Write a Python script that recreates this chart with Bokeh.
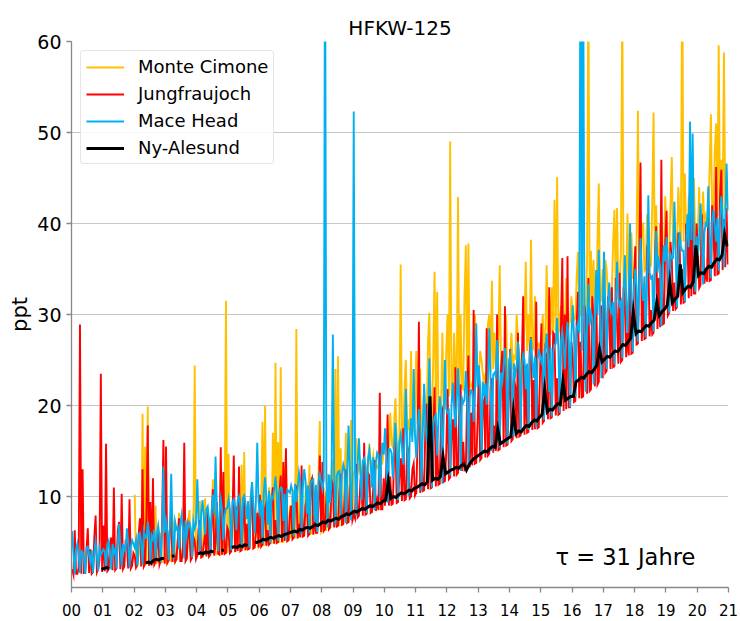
from bokeh.plotting import figure
from bokeh.models import Range1d, FixedTicker, Legend, LegendItem, Label
from bokeh.embed import file_html
from bokeh.resources import INLINE

nan = float("nan")

# ---------------- data, 2000-2020 ----------------
n_years = 21
# sample times in years since 2000: half-monthly for the three dense records, monthly for Ny-Alesund
t_half = [(i + 0.5) / 24 for i in range(24 * n_years)]
t_month = [(i + 0.5) / 12 for i in range(12 * n_years)]

x_ticks = list(range(0, 22))
x_labels = ["00", "01", "02", "03", "04", "05", "06", "07", "08", "09", "10",
            "11", "12", "13", "14", "15", "16", "17", "18", "19", "20", "21"]
y_ticks = [10, 20, 30, 40, 50, 60]

monte_cimone = [
    nan, nan, nan, nan, nan, nan, nan, nan, nan, nan, nan, nan, nan, nan, nan, nan, nan, nan, nan, nan, nan, nan, nan, nan,  # 2000
    nan, nan, nan, nan, nan, nan, nan, nan, nan, nan, nan, nan, nan, nan, nan, nan, nan, nan, nan, nan, nan, nan, nan, nan,  # 2001
    10.2, 2.3, 2.3, 4.0, 5.0, 2.4, 19.1, 2.4, 15.5, 2.5, 19.9, 2.5, 2.6, 6.0, 4.5, 2.6, 9.0, 2.7, 2.8, 5.0, 6.0, 2.8, 2.9, 3.6,  # 2002
    3.0, 4.6, 5.5, 3.0, 2.9, 6.2, 7.0, 3.0, 3.1, 5.0, 8.2, 3.1, 3.2, 4.5, 6.5, 3.2, 3.2, 7.0, 8.5, 3.3, 3.3, 5.2, 24.4, 3.3,  # 2003
    3.5, 5.8, 9.5, 3.4, 3.4, 7.5, 9.8, 3.5, 6.0, 3.5, 3.6, 8.0, 11.9, 3.6, 12.0, 3.7, 3.7, 6.5, 7.5, 3.7, 3.8, 9.0, 31.5, 3.8,  # 2004
    14.7, 3.9, 3.9, 7.0, 8.5, 4.0, 4.1, 9.5, 10.2, 4.1, 13.5, 4.2, 14.9, 4.2, 4.2, 8.0, 4.3, 10.0, 9.0, 4.3, 4.4, 7.5, 8.0, 4.4,  # 2005
    4.6, 9.0, 18.2, 4.6, 20.0, 4.7, 4.7, 11.0, 9.5, 4.8, 17.0, 4.8, 24.7, 4.9, 16.0, 4.9, 24.2, 5.0, 5.0, 12.0, 14.5, 5.1, 5.2, 9.0,  # 2006
    5.4, 10.0, 10.5, 5.4, 28.4, 5.5, 5.6, 12.0, 9.0, 5.7, 5.8, 10.5, 11.0, 5.9, 13.5, 5.9, 6.0, 11.0, 8.5, 6.0, 6.1, 12.5, 18.3, 6.1,  # 2007
    6.4, 11.0, 6.3, 6.3, 12.5, 6.5, 6.6, 13.0, 14.0, 6.7, 24.0, 6.8, 25.4, 6.8, 15.3, 6.9, 6.9, 12.0, 17.0, 7.1, 7.2, 13.5, 18.4, 7.3,  # 2008
    12.6, 13.0, 16.4, 13.2, 12.8, 14.0, 11.5, 13.4, 12.9, 12.5, 13.0, 13.8, 15.8, 13.1, 13.5, 14.5, 12.5, 13.6, 13.3, 13.0, 14.8, 13.9, 13.7, 15.0,  # 2009
    15.2, 16.0, 13.5, 15.6, 19.2, 15.8, 15.4, 18.0, 20.8, 16.2, 12.0, 16.6, 35.5, 16.0, 16.4, 22.0, 25.0, 16.8, 18.5, 17.2, 26.0, 17.0, 17.4, 20.0,  # 2010
    26.0, 18.0, 17.6, 24.0, 15.0, 18.4, 21.8, 18.2, 18.8, 27.0, 30.2, 19.0, 18.6, 25.0, 34.7, 19.4, 32.5, 19.2, 20.0, 19.8, 28.0, 19.6, 20.2, 26.0,  # 2011
    30.0, 21.0, 49.0, 21.4, 20.8, 28.0, 24.0, 21.6, 42.9, 21.2, 30.0, 22.0, 21.8, 32.0, 37.6, 22.4, 37.8, 22.2, 22.0, 22.6, 22.8, 30.0, 27.0, 23.0,  # 2012
    23.2, 26.0, 25.0, 23.6, 22.0, 23.4, 23.8, 29.0, 30.0, 23.6, 33.7, 24.0, 28.0, 24.2, 24.0, 27.0, 35.4, 24.4, 24.0, 24.8, 24.6, 30.0, 21.0, 25.0,  # 2013
    25.0, 28.0, 24.0, 25.4, 25.2, 30.0, 27.0, 25.6, 22.0, 25.8, 25.6, 29.0, 35.8, 26.0, 30.0, 26.2, 38.2, 26.4, 26.2, 32.0, 27.0, 26.6, 26.8, 26.0,  # 2014
    27.0, 30.0, 26.0, 27.4, 35.4, 27.6, 32.0, 27.8, 33.0, 28.0, 42.6, 28.2, 45.1, 28.0, 28.4, 31.0, 30.0, 28.6, 28.8, 34.0, 27.0, 29.0, 29.2, 32.0,  # 2015
    30.3, 29.4, 29.6, 34.0, 36.9, 29.8, 30.0, 35.0, 32.0, 30.2, 30.4, 36.0, 68.0, 30.6, 37.0, 30.8, 36.0, 31.0, 31.2, 38.0, 44.4, 31.4, 31.6, 35.0,  # 2016
    31.8, 36.0, 35.0, 32.0, 33.0, 32.2, 32.4, 38.0, 41.5, 32.6, 41.7, 32.8, 33.0, 37.0, 65.0, 33.2, 30.0, 33.4, 41.1, 33.6, 33.8, 39.0, 34.0, 34.0,  # 2017
    34.2, 38.0, 52.4, 34.4, 34.6, 40.0, 40.0, 34.8, 35.0, 41.0, 39.0, 35.2, 35.4, 42.0, 52.2, 35.6, 42.0, 35.8, 36.0, 40.0, 36.0, 36.2, 36.4, 43.0,  # 2018
    38.0, 36.8, 37.0, 42.0, 47.3, 37.2, 40.0, 37.4, 37.6, 44.0, 40.0, 37.8, 70.0, 38.0, 45.5, 38.2, 38.4, 43.0, 36.0, 38.6, 38.8, 45.0, 38.0, 39.0,  # 2019
    39.2, 44.0, 37.0, 39.6, 43.5, 39.8, 40.8, 40.0, 40.2, 46.0, 52.0, 40.4, 40.6, 48.0, 51.0, 40.8, 59.6, 41.0, 47.0, 41.2, 58.8, 41.4, 45.0, 41.6,  # 2020
]

jungfraujoch = [
    2.0, 1.4, 6.3, 1.5, 1.5, 2.2, 28.9, 1.5, 13.0, 1.6, 1.6, 4.0, 6.5, 1.6, 4.2, 1.5, 1.7, 5.5, 7.9, 1.7, 2.1, 3.0, 23.5, 1.7,  # 2000
    6.8, 1.8, 15.8, 1.8, 2.0, 4.6, 5.5, 1.9, 11.0, 1.9, 2.1, 6.2, 7.2, 2.0, 10.3, 2.0, 2.3, 5.0, 4.8, 2.1, 9.7, 2.1, 2.4, 3.8,  # 2001
    3.5, 2.2, 2.5, 5.8, 7.6, 2.3, 13.0, 2.3, 2.6, 8.2, 17.8, 2.4, 9.4, 2.4, 12.0, 2.5, 2.8, 4.6, 6.3, 2.5, 3.0, 7.0, 16.2, 2.6,  # 2002
    15.5, 2.7, 3.0, 6.4, 8.3, 2.8, 4.5, 2.8, 3.1, 5.2, 7.6, 2.9, 2.9, 4.4, 15.9, 2.9, 3.2, 6.8, 6.0, 3.0, 3.3, 5.6, 5.1, 3.1,  # 2003
    3.5, 6.5, 7.4, 3.3, 3.4, 4.8, 5.9, 3.4, 8.6, 3.4, 3.6, 7.2, 10.8, 3.5, 4.8, 9.4, 3.7, 3.6, 15.4, 3.6, 12.7, 3.7, 3.8, 6.6,  # 2004
    6.2, 3.8, 4.0, 8.0, 14.5, 3.9, 8.9, 4.0, 13.3, 4.0, 4.1, 7.4, 9.6, 4.1, 7.0, 4.2, 4.3, 9.0, 11.4, 4.3, 4.4, 6.0, 8.2, 4.4,  # 2005
    10.2, 4.5, 4.7, 8.2, 8.8, 4.6, 6.3, 4.7, 4.9, 9.6, 11.0, 4.8, 7.4, 4.9, 5.0, 10.4, 12.3, 5.0, 13.8, 5.1, 15.3, 5.1, 5.2, 8.0,  # 2006
    9.0, 5.3, 5.5, 10.0, 11.2, 5.4, 7.0, 5.5, 13.4, 5.6, 5.7, 9.0, 9.8, 5.7, 5.9, 11.6, 12.0, 5.8, 7.8, 6.0, 6.0, 9.2, 14.5, 6.1,  # 2007
    13.8, 6.2, 6.4, 10.0, 9.5, 6.4, 6.6, 11.8, 11.4, 6.6, 8.7, 6.7, 6.8, 10.4, 12.5, 6.9, 7.0, 9.6, 13.0, 7.1, 7.2, 11.0, 10.8, 7.4,  # 2008
    8.0, 7.6, 13.6, 7.7, 7.9, 11.2, 10.5, 7.9, 15.9, 8.0, 8.1, 12.6, 12.3, 8.2, 8.3, 11.0, 14.0, 8.4, 9.5, 8.5, 21.4, 8.6, 8.6, 12.0,  # 2009
    9.0, 13.2, 19.0, 9.0, 12.2, 9.1, 9.2, 14.6, 16.8, 9.3, 9.4, 12.4, 14.2, 9.5, 17.5, 9.6, 9.7, 15.6, 15.0, 9.8, 10.0, 13.0, 13.6, 10.1,  # 2010
    10.4, 16.2, 29.2, 10.4, 15.0, 10.6, 10.7, 18.0, 20.2, 10.8, 17.3, 10.9, 11.0, 16.6, 22.0, 11.1, 16.1, 11.3, 11.4, 19.0, 19.5, 11.6, 11.7, 15.0,  # 2011
    21.8, 11.9, 12.1, 17.0, 18.5, 12.2, 24.2, 12.4, 12.6, 20.0, 22.3, 12.8, 16.0, 12.9, 13.0, 21.0, 25.5, 13.2, 19.2, 13.4, 30.5, 13.6, 13.7, 18.0,  # 2012
    24.0, 14.0, 14.2, 20.0, 20.6, 14.3, 28.5, 14.5, 14.7, 22.0, 23.0, 14.8, 17.8, 15.0, 30.0, 15.1, 15.2, 24.0, 26.0, 15.4, 30.9, 15.6, 15.7, 21.0,  # 2013
    26.2, 16.1, 16.3, 23.0, 22.0, 16.4, 28.0, 16.6, 16.7, 25.0, 32.0, 16.8, 24.4, 17.0, 17.1, 26.0, 27.5, 17.3, 22.8, 17.4, 31.4, 17.5, 17.6, 24.0,  # 2014
    29.0, 18.1, 18.3, 26.0, 25.3, 18.5, 33.0, 18.6, 18.7, 28.0, 27.8, 18.9, 23.0, 19.0, 19.1, 29.0, 36.2, 19.4, 30.0, 19.6, 36.4, 19.8, 19.8, 27.0,  # 2015
    25.5, 20.4, 20.5, 29.0, 32.5, 20.8, 27.0, 20.9, 21.0, 31.0, 30.0, 21.3, 34.0, 21.6, 21.8, 32.0, 29.5, 22.1, 33.5, 22.3, 22.6, 30.0, 31.0, 23.0,  # 2016
    35.5, 23.6, 23.8, 32.0, 30.2, 24.0, 33.0, 24.2, 24.3, 34.0, 29.0, 24.6, 34.6, 24.8, 25.0, 33.0, 31.2, 25.3, 28.0, 25.5, 37.8, 25.7, 25.8, 34.0,  # 2017
    37.5, 26.7, 26.8, 35.0, 46.7, 27.1, 33.0, 27.3, 27.4, 37.0, 36.5, 27.6, 30.5, 27.8, 28.0, 36.0, 39.7, 28.4, 34.0, 28.6, 47.0, 28.9, 29.0, 38.0,  # 2018
    41.4, 29.9, 30.2, 38.0, 36.0, 30.4, 33.5, 30.6, 30.8, 39.0, 37.7, 31.1, 35.0, 31.3, 31.4, 40.0, 38.5, 31.8, 45.1, 32.0, 42.4, 32.3, 32.3, 40.0,  # 2019
    36.8, 32.9, 33.2, 41.0, 38.5, 33.4, 35.0, 33.6, 41.7, 33.7, 33.8, 42.0, 39.0, 34.2, 46.2, 34.4, 34.5, 43.0, 45.9, 34.9, 40.5, 35.2, 41.7, 35.5,  # 2020
]

mace_head = [
    6.2, 3.8, 1.5, 4.2, 4.8, 3.5, 1.6, 4.0, 3.9, 3.2, 1.5, 4.4, 4.5, 3.6, 2.8, 4.1, 1.6, 3.8, 5.0, 3.4, 1.8, 4.3, 3.6, 3.9,  # 2000
    4.2, 4.0, 1.9, 4.6, 5.1, 3.8, 2.0, 4.8, 3.8, 4.2, 2.1, 5.0, 7.0, 4.4, 2.3, 4.7, 4.6, 4.0, 6.5, 4.9, 2.2, 4.5, 5.2, 4.8,  # 2001
    4.4, 5.2, 2.4, 5.8, 6.0, 4.9, 2.5, 6.2, 5.5, 5.4, 7.2, 6.0, 2.6, 5.7, 5.3, 6.4, 3.0, 5.9, 6.8, 5.5, 2.8, 6.3, 13.3, 6.0,  # 2002
    7.3, 6.2, 3.0, 6.8, 12.5, 6.0, 3.1, 7.2, 6.4, 6.6, 4.2, 7.0, 8.0, 6.4, 3.2, 7.4, 5.8, 6.8, 7.1, 6.5, 3.3, 7.3, 6.5, 7.0,  # 2003
    11.9, 7.6, 3.6, 8.2, 9.6, 7.8, 5.8, 8.6, 8.9, 7.5, 3.7, 8.4, 10.2, 8.0, 14.4, 8.8, 4.0, 8.1, 9.7, 8.5, 5.2, 7.9, 8.7, 8.7,  # 2004
    9.7, 8.6, 4.1, 9.4, 9.7, 8.8, 6.3, 9.6, 10.0, 9.0, 4.3, 9.8, 10.1, 9.2, 7.5, 9.5, 4.4, 9.9, 11.6, 9.1, 5.9, 9.7, 15.9, 9.4,  # 2005
    8.3, 9.6, 4.8, 10.4, 12.1, 9.8, 6.9, 10.6, 4.9, 10.0, 9.8, 10.8, 12.2, 10.2, 5.1, 10.5, 11.0, 10.9, 7.3, 10.3, 5.2, 10.7, 10.6, 10.4,  # 2006
    11.2, 10.6, 5.6, 11.4, 9.4, 10.8, 12.6, 11.6, 5.8, 11.0, 13.0, 11.8, 8.1, 11.2, 6.0, 11.5, 11.8, 11.9, 7.2, 11.3, 6.1, 11.7, 12.4, 11.6,  # 2007
    10.8, 11.8, 75.0, 12.2, 6.6, 12.4, 9.3, 12.0, 27.8, 12.6, 6.9, 12.3, 12.7, 12.8, 8.0, 12.5, 13.5, 12.9, 7.1, 12.4, 17.8, 13.0, 7.4, 12.7,  # 2008
    52.3, 13.0, 7.9, 13.6, 16.4, 13.2, 9.6, 13.9, 14.2, 13.4, 8.2, 14.1, 15.1, 13.7, 11.0, 14.3, 8.5, 13.8, 14.8, 14.5, 9.9, 14.0, 15.9, 14.6,  # 2009
    17.5, 14.6, 9.3, 15.2, 15.2, 14.8, 12.0, 15.6, 18.1, 15.0, 9.6, 15.9, 16.8, 15.4, 13.5, 16.2, 21.8, 15.7, 10.0, 16.5, 18.6, 16.0, 24.0, 16.8,  # 2010
    14.2, 17.0, 19.6, 17.8, 10.6, 17.4, 22.4, 18.2, 16.0, 17.6, 25.2, 18.6, 11.0, 18.0, 18.7, 19.0, 14.5, 18.4, 21.0, 19.4, 11.4, 18.8, 25.0, 19.6,  # 2011
    19.2, 19.4, 12.3, 20.0, 22.5, 19.8, 17.6, 20.4, 24.1, 20.2, 12.8, 20.8, 20.3, 20.6, 23.8, 21.2, 13.3, 21.0, 21.7, 21.6, 18.2, 21.4, 29.0, 22.0,  # 2012
    24.4, 22.0, 14.5, 22.6, 21.0, 22.4, 20.1, 23.0, 28.5, 22.8, 15.0, 23.4, 23.6, 23.2, 27.2, 23.8, 15.4, 23.6, 22.7, 24.2, 26.3, 24.0, 15.8, 24.6,  # 2013
    25.6, 24.0, 16.6, 24.6, 23.4, 24.2, 27.0, 24.8, 17.0, 24.4, 25.6, 25.0, 21.8, 24.6, 17.3, 25.2, 27.4, 24.8, 23.0, 25.4, 17.6, 25.0, 26.0, 25.6,  # 2014
    24.8, 25.4, 18.4, 26.0, 27.9, 25.6, 21.5, 26.4, 18.8, 25.8, 26.7, 26.8, 29.6, 26.2, 19.2, 27.0, 28.1, 26.6, 24.0, 27.4, 29.2, 27.0, 19.8, 27.8,  # 2015
    31.0, 27.6, 21.0, 28.4, 29.0, 28.0, 75.0, 26.0, 70.0, 28.6, 21.5, 29.2, 33.4, 28.8, 30.2, 29.6, 22.3, 29.2, 34.9, 30.0, 37.1, 29.6, 23.0, 30.4,  # 2016
    36.9, 30.2, 24.0, 31.0, 33.5, 30.6, 30.2, 31.4, 24.5, 31.0, 35.8, 31.8, 31.0, 31.4, 25.2, 32.2, 36.5, 31.8, 28.0, 32.6, 40.0, 32.2, 25.9, 33.0,  # 2017
    35.0, 33.0, 27.0, 33.8, 38.4, 33.4, 31.5, 34.2, 27.5, 33.8, 43.1, 34.6, 34.0, 34.2, 28.1, 35.0, 39.2, 34.6, 36.0, 35.4, 28.7, 35.0, 37.6, 35.8,  # 2018
    38.5, 35.8, 30.2, 36.6, 36.2, 36.2, 42.4, 37.0, 30.8, 36.6, 39.1, 37.4, 37.0, 37.0, 31.4, 37.8, 41.0, 37.4, 51.2, 38.2, 49.9, 37.8, 32.5, 38.6,  # 2019
    36.5, 38.6, 42.2, 39.4, 33.3, 39.0, 40.0, 39.8, 44.1, 39.4, 34.0, 40.2, 41.5, 39.8, 38.0, 40.6, 34.8, 40.2, 43.0, 41.0, 35.2, 40.6, 46.6, 41.4,  # 2020
]

ny_alesund = [
    nan, nan, nan, nan, nan, nan, nan, nan, nan, nan, nan, 2.0,          # 2000
    2.1, 2.2, 2.1, nan, nan, nan, nan, nan, nan, nan, nan, nan,          # 2001
    nan, nan, nan, nan, 2.7, 2.8, 2.7, 3.0, 3.1, 3.0, 3.2, 3.2,          # 2002
    nan, nan, 3.4, 3.5, nan, nan, nan, nan, nan, nan, nan, nan,          # 2003
    3.7, 3.8, 3.7, 3.9, 3.8, 4.0, 3.9, nan, nan, 4.1, 4.1, nan,          # 2004
    nan, 4.4, 4.5, 4.4, 4.6, 4.5, 4.7, 4.6, nan, nan, 4.9, 5.0,          # 2005
    5.1, 5.3, 5.2, 5.4, 5.5, 5.4, 5.6, 5.7, 5.6, 5.8, 5.9, 6.0,          # 2006
    6.1, 6.2, 6.1, 6.4, 6.3, 6.5, 6.6, 6.5, 6.7, 6.9, 6.8, 7.0,          # 2007
    7.2, 7.1, 7.4, 7.3, 7.5, 7.6, 7.5, 7.8, 7.9, 8.1, 8.0, 8.2,          # 2008
    8.4, 8.3, 8.5, 8.7, 8.6, 8.8, 9.0, 8.9, 9.1, 9.3, 9.2, 9.5,          # 2009
    9.6, 11.7, 9.8, 10.0, 9.9, 10.2, 10.4, 10.3, 10.5, 10.7, 10.6, 10.9, # 2010
    11.0, 11.2, 11.4, 11.3, 11.6, 21.0, 11.8, 12.0, 11.9, 12.2, 14.4, 12.5,  # 2011
    12.7, 12.9, 13.0, 13.2, 13.1, 13.4, 13.6, 12.9, 13.5, 13.9, 14.2, 14.4,  # 2012
    14.6, 14.8, 15.0, 14.9, 15.3, 15.5, 15.4, 17.4, 15.8, 16.0, 16.2, 16.4,  # 2013
    16.6, 19.4, 16.9, 17.2, 17.1, 17.5, 17.8, 17.7, 18.1, 18.4, 18.3, 18.7,  # 2014
    19.0, 21.8, 19.3, 19.6, 19.5, 19.9, 20.2, 20.1, 22.7, 20.6, 20.8, 21.0,  # 2015
    21.0, 22.6, 22.8, 23.1, 23.0, 23.4, 23.7, 23.6, 24.0, 24.4, 26.2, 24.8,  # 2016
    25.1, 25.4, 25.3, 25.7, 26.0, 25.9, 26.3, 26.7, 26.6, 27.0, 27.4, 30.3,  # 2017
    27.9, 28.2, 28.1, 28.5, 28.8, 28.7, 29.1, 29.4, 31.4, 29.9, 30.3, 30.6,  # 2018
    31.0, 33.6, 31.3, 31.7, 32.0, 35.5, 32.4, 32.8, 33.1, 33.0, 33.6, 37.6,  # 2019
    34.3, 34.6, 34.5, 35.0, 35.3, 35.2, 35.7, 36.1, 36.0, 36.5, 38.8, 37.5,  # 2020
]

series_names = ["Monte Cimone", "Jungfraujoch", "Mace Head", "Ny-Alesund"]
series_colors = ["#FFC000", "#FF0000", "#00B0F0", "#000000"]
lifetime_text = "\u03c4 = 31 Jahre"

# ---------------- figure ----------------
FONT = "DejaVu Sans"
p = figure(width=740, height=621, output_backend="svg", toolbar_location=None,
           x_range=Range1d(0, 21), y_range=Range1d(0, 60),
           min_border_left=71, min_border_right=12, min_border_top=41, min_border_bottom=34)
p.outline_line_color = None
p.background_fill_color = "white"
p.border_fill_color = "white"

p.title.text = "HFKW-125"
p.title.align = "center"
p.title.text_font = FONT
p.title.text_font_size = "20px"
p.title.text_font_style = "normal"
p.title.text_color = "#000000"
p.title.standoff = 4

renderers = []
for tt, vals, col, lw in zip([t_half, t_half, t_half, t_month],
                             [monte_cimone, jungfraujoch, mace_head, ny_alesund],
                             series_colors, [1.9, 1.9, 1.9, 3.0]):
    r = p.line(tt, vals, line_color=col, line_width=lw, line_join="miter")
    renderers.append(r)

# axes
for ax in (p.xaxis, p.yaxis):
    ax.axis_line_color = "#888888"
    ax.axis_line_width = 1.3
    ax.major_tick_line_color = "#888888"
    ax.major_tick_line_width = 1.3
    ax.major_tick_out = 5
    ax.major_tick_in = 0
    ax.minor_tick_line_color = None
    ax.major_label_text_font = FONT
    ax.major_label_text_color = "#000000"

p.xaxis.ticker = FixedTicker(ticks=x_ticks)
p.xaxis.major_label_overrides = {k: v for k, v in zip(x_ticks, x_labels)}
p.xaxis.major_label_text_font_size = "15px"
p.xaxis.major_label_standoff = 11

p.yaxis.ticker = FixedTicker(ticks=y_ticks)
p.yaxis.major_label_text_font_size = "19px"
p.yaxis.major_label_standoff = 5
p.yaxis.axis_label = "ppt"
p.yaxis.axis_label_text_font = FONT
p.yaxis.axis_label_text_font_size = "21px"
p.yaxis.axis_label_text_font_style = "normal"
p.yaxis.axis_label_text_color = "#000000"
p.yaxis.axis_label_standoff = 2

p.xgrid.visible = False
p.ygrid.ticker = FixedTicker(ticks=y_ticks)
p.ygrid.grid_line_color = "#c6c6c6"
p.ygrid.grid_line_width = 1.2

# annotation
p.add_layout(Label(x=15.47, y=3.37, text=lifetime_text, text_font=FONT,
                   text_font_size="22.5px", text_color="#000000",
                   text_baseline="alphabetic", text_align="left"))

# legend
items = [LegendItem(label=n, renderers=[r]) for n, r in zip(series_names, renderers)]
legend = Legend(items=items, location="top_left", margin=9, padding=5, spacing=6,
                glyph_width=38, glyph_height=20, label_height=20, label_standoff=14,
                label_text_font=FONT, label_text_font_size="18px", label_text_color="#000000",
                border_line_color="#cccccc", border_line_width=1,
                background_fill_color="white", background_fill_alpha=0.85)
try:
    legend.border_radius = 4
except Exception:
    pass
p.add_layout(legend)

open("out.html", "w").write(file_html(p, INLINE))
